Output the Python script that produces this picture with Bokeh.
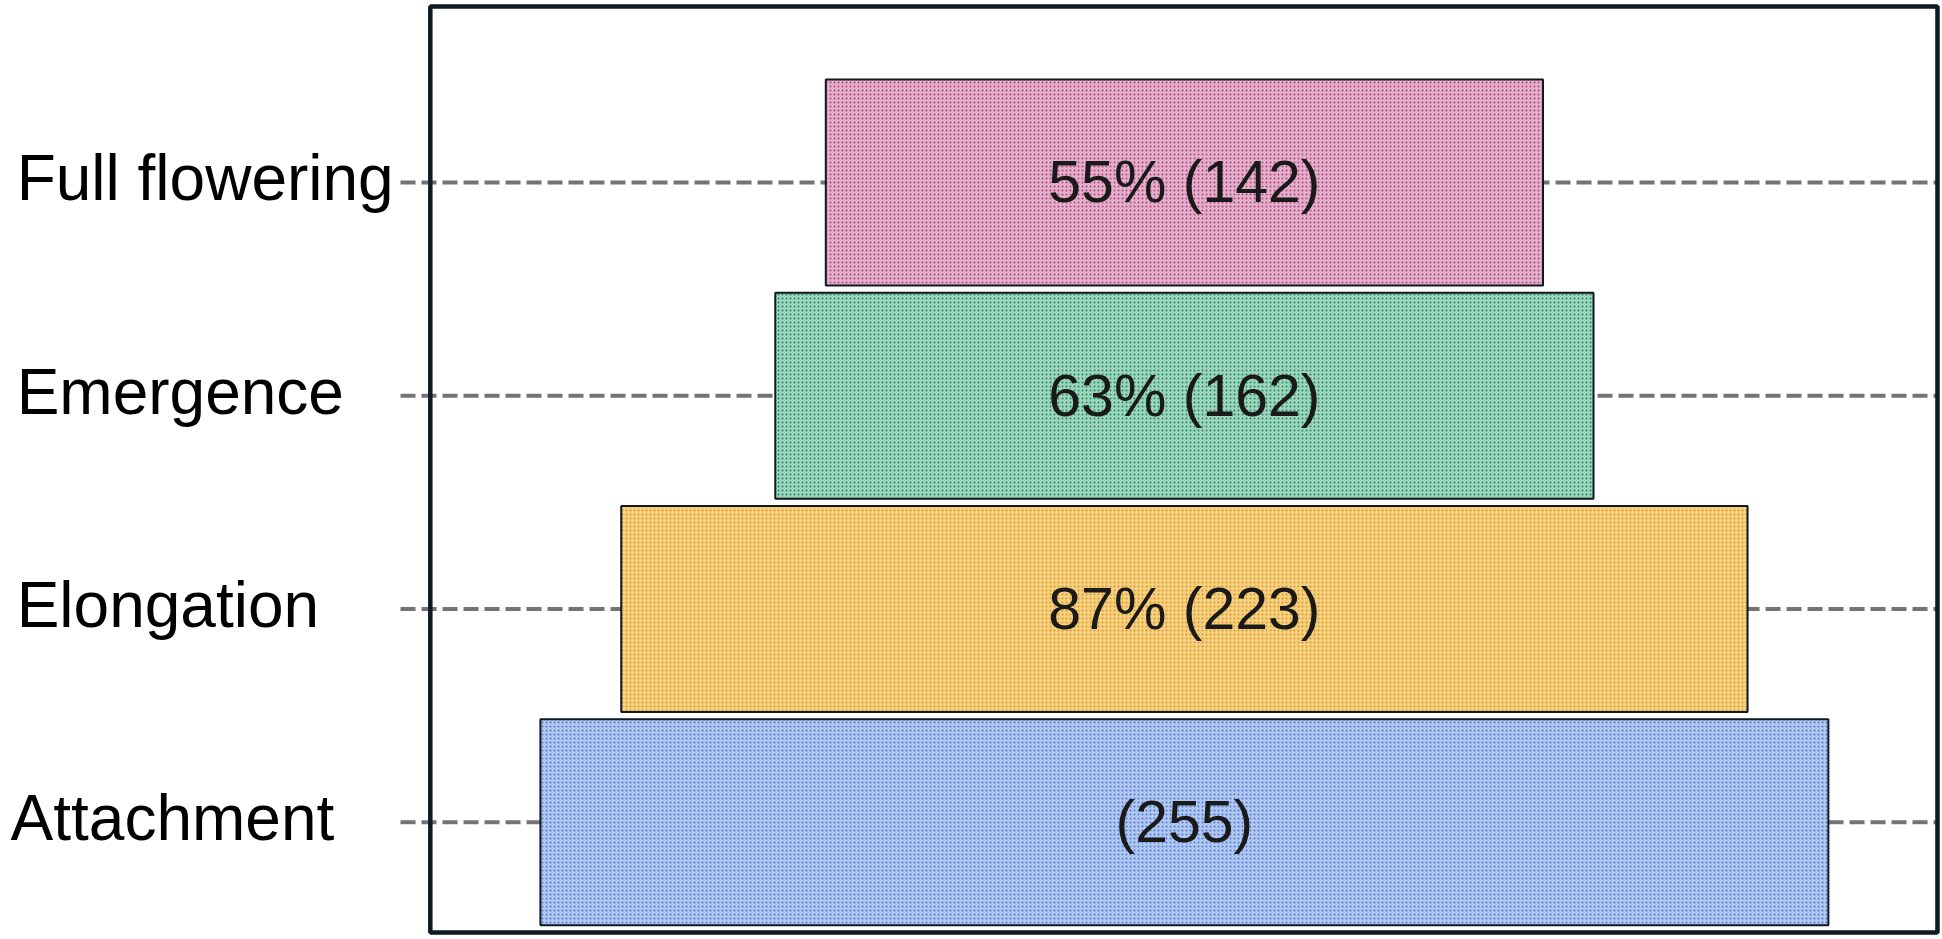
from bokeh.plotting import figure
from bokeh.models import ColumnDataSource, Range1d
from bokeh.embed import file_html
from bokeh.resources import INLINE
from bokeh.core.properties import value

# ---- data ----
stages = ["Attachment", "Elongation", "Emergence", "Full flowering"]
counts = [255, 223, 162, 142]
percents = [None, 87, 63, 55]
fill_tints = ["#b3c8f0", "#f4d083", "#9fd3bc", "#e2b0ca"]
dot_colors = ["#4a7ad8", "#e0951a", "#1c8f63", "#b8477f"]

ypos = list(range(len(stages)))
lefts = [-c / 2 for c in counts]
rights = [c / 2 for c in counts]
texts = [(f"{p}% ({c})" if p is not None else f"({c})") for p, c in zip(percents, counts)]

src = ColumnDataSource(dict(y=ypos, left=lefts, right=rights, text=texts,
                            tint=fill_tints, dots=dot_colors,
                            x0=[0] * len(stages)))

# layout constants (data units of the plot frame)
X_START, X_END = -234.4, 149.7
BOX_L, BOX_R = -149.3, 149.1
BOX_B, BOX_T = -0.516, 3.825
DASH_L = -155.2
LABEL_X = [-232.4, -231.2, -231.2, -231.2]

p = figure(width=1940, height=937, output_backend="svg", toolbar_location=None,
           x_range=Range1d(X_START, X_END), y_range=Range1d(-0.540, 3.853),
           x_axis_location=None, y_axis_location=None, title=None,
           min_border=0)
p.background_fill_color = "white"
p.border_fill_color = "white"
p.outline_line_color = None
p.grid.visible = False

# dashed guide lines per stage
p.segment(x0=[DASH_L] * len(ypos), x1=[BOX_R] * len(ypos), y0=ypos, y1=ypos,
          line_color="#747474", line_width=4, line_dash="15 6")

p.hbar(y="y", left="left", right="right", height=0.966, source=src,
       fill_color="tint", hatch_pattern="dot", hatch_color="dots",
       hatch_scale=4, hatch_weight=1.5,
       line_color="#101820", line_width=2)

p.text(x="x0", y="y", text="text", source=src, text_align="center",
       text_baseline="middle", text_font=value("Liberation Sans"),
       text_font_size="59px", text_color="#1a1a1a")

# stage names
p.text(x=LABEL_X, y=ypos, text=stages, text_align="left", text_baseline="middle",
       y_offset=-4, text_font=value("Liberation Sans"), text_font_size="64px",
       text_color="black")

# frame box
p.quad(left=[BOX_L], right=[BOX_R], bottom=[BOX_B], top=[BOX_T],
       fill_color=None, line_color="#0e1a24", line_width=4.5)

open("out.html", "w").write(file_html(p, INLINE))
